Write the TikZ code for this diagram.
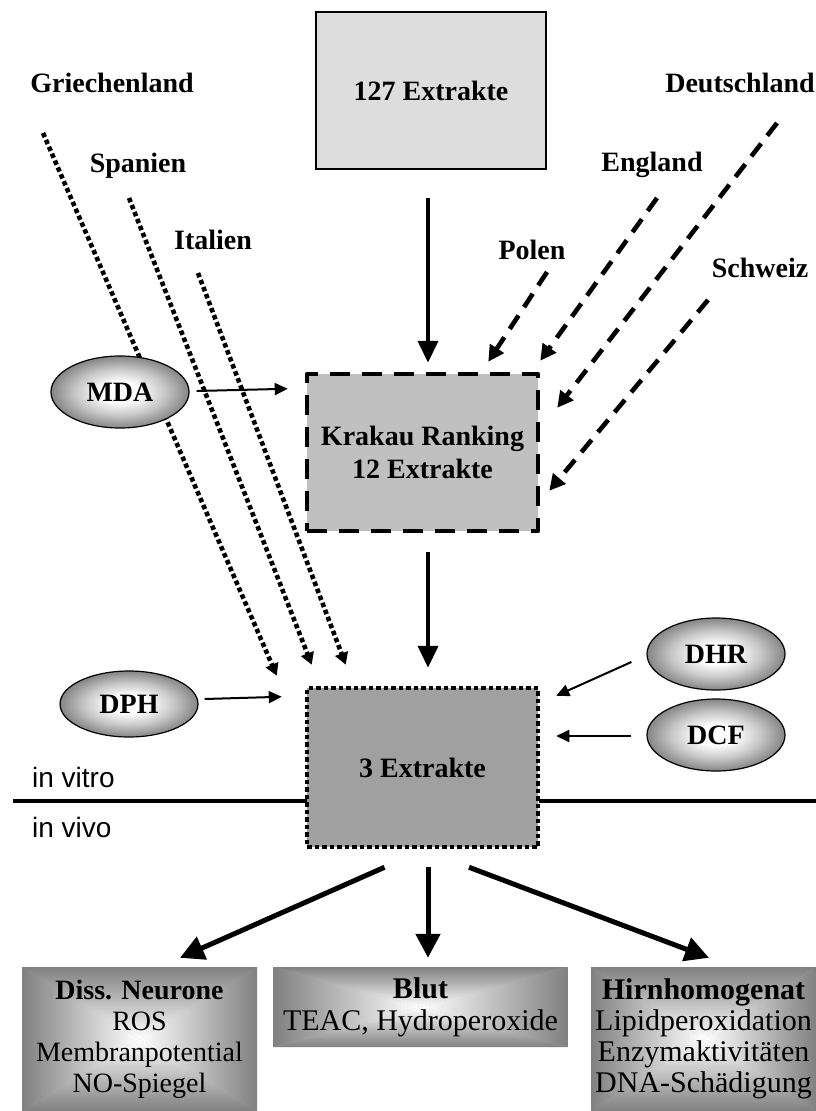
\documentclass[tikz,border=0pt]{standalone}
\usepackage{fontspec}
\setmainfont{Liberation Serif}
\setsansfont{Liberation Sans}
\usetikzlibrary{arrows.meta,calc,shapes.geometric}

\definecolor{fillTop}{HTML}{DDDDDD}
\definecolor{fillKrakau}{HTML}{C0C0C0}
\definecolor{fillDrei}{HTML}{A0A0A0}
\definecolor{shadeEdge}{HTML}{808080}
\definecolor{ellEdge}{HTML}{858585}

% soft glow for the assay ellipses (radius 25bp reaches the outline)
\pgfdeclareradialshading{ellglow}{\pgfpoint{0bp}{0bp}}{%
  color(0bp)=(white); color(7bp)=(white); color(16bp)=(white!55!ellEdge);
  color(25bp)=(ellEdge); color(50bp)=(ellEdge)}

\tikzset{
  bigfont/.style={font=\fontsize{28}{33}\selectfont\bfseries},
  country/.style={bigfont, inner sep=0pt},
  stagebox/.style={bigfont, align=center, inner sep=0pt, minimum width=231pt, minimum height=157pt},
  ellbox/.style={ellipse, draw=black, line width=1.2pt, shading=ellglow,
                 minimum width=138pt, minimum height=72pt, inner sep=0pt, bigfont},
  % rectangular "from centre" gradient: four triangles, each shaded towards its edge
  rectshade/.style={fill=shadeEdge!60!white, path picture={
      \coordinate (pnw) at (path picture bounding box.north west);
      \coordinate (pne) at (path picture bounding box.north east);
      \coordinate (psw) at (path picture bounding box.south west);
      \coordinate (pse) at (path picture bounding box.south east);
      \coordinate (pc)  at (path picture bounding box.center);
      \begin{scope}\clip (pnw) -- (pne) -- (pc) -- cycle;
        \shade[top color=shadeEdge, bottom color=white] (pnw) rectangle (pc -| pne);\end{scope}
      \begin{scope}\clip (psw) -- (pse) -- (pc) -- cycle;
        \shade[top color=white, bottom color=shadeEdge] (pc -| psw) rectangle (pse);\end{scope}
      \begin{scope}\clip (pnw) -- (psw) -- (pc) -- cycle;
        \shade[left color=shadeEdge, right color=white] (pnw) rectangle (pc |- psw);\end{scope}
      \begin{scope}\clip (pne) -- (pse) -- (pc) -- cycle;
        \shade[left color=white, right color=shadeEdge] (pc |- pne) rectangle (pse);\end{scope}
    }},
  resultbox/.style={rectshade, align=center, inner sep=0pt, font=\fontsize{28}{31}\selectfont},
  bigarrow/.style={line width=4pt, -{Triangle[length=22pt,width=20pt]}},
  outarrow/.style={line width=5pt, -{Triangle[length=24pt,width=24pt]}},
  thinarrow/.style={line width=2pt, -{Triangle[length=13pt,width=12pt]}},
  dasharrow/.style={line width=4.6pt, dash pattern=on 16pt off 10pt, -{Triangle[length=16pt,width=16pt]}},
  dotarrow/.style={line width=4.6pt, dash pattern=on 4.5pt off 3pt, -{Triangle[length=12pt,width=13pt]}},
  sepline/.style={line width=4pt},
  sidelabel/.style={font=\fontsize{28}{33}\selectfont\sffamily, inner sep=0pt, anchor=base west}
}

\begin{document}
\begin{tikzpicture}[x=1pt, y=-1pt]
\useasboundingbox (0,0) rectangle (816,1111);

% separator between in vitro and in vivo
\coordinate (sepL) at (13,801);
\coordinate (sepR) at (816,801);

% main stages
\node[stagebox, draw=black, line width=1.2pt, fill=fillTop, minimum width=230pt] (ex127) at (431,90.5) {127 Extrakte};
\node[stagebox, fill=fillKrakau, draw=black, line width=4.5pt, dash pattern=on 20pt off 12pt, line join=round] (ex12) at (422.5,452.5)
  {Krakau Ranking\\12 Extrakte};

\draw[sepline] (sepL) -- (sepL -| 307,0);
\draw[sepline] (539,801) -- (sepR);

\node[stagebox, fill=fillDrei, draw=black, line width=4.5pt, dash pattern=on 4.5pt off 3pt, minimum height=159pt] (ex3) at (422.5,767.5) {3 Extrakte};

\node[sidelabel] (vitro) at (32,787) {in vitro};
\node[sidelabel] (vivo) at (32,837) {in vivo};

% countries
\node[country] (gr) at (112,83) {Griechenland};
\node[country] (es) at (138,166) {Spanien};
\node[country] (it) at (213,240) {Italien};
\node[country] (de) at (740,83) {Deutschland};
\node[country] (en) at (652,165) {England};
\node[country] (pl) at (532,250) {Polen};
\node[country] (ch) at (760,268) {Schweiz};

% main flow
\draw[bigarrow] ($(ex127.south)+(-3,28)$) -- ($(ex12.north)+(5.5,-9)$);
\draw[bigarrow] ($(ex12.south)+(5.5,19)$) -- ($(ex3.north)+(5.5,-18)$);

% country contributions to the ranking
\draw[dasharrow] ($(pl.center)+(15,22)$) -- ($(ex12.north east)+(-52,-10)$);
\draw[dasharrow] ($(en.center)+(5,33)$) -- ($(ex12.north east)+(0,-11)$);
\draw[dasharrow] ($(de.center)+(37,40)$) -- ($(ex12.north east)+(17,36)$);
\draw[dasharrow] ($(ch.center)+(-52,32)$) -- ($(ex12.north east)+(9,119)$);

% direct contributions to the final selection (pass behind the MDA ellipse)
\draw[dotarrow] ($(gr.center)+(-69,50)$) -- ($(ex3.north west)+(-28,-10)$);
\draw[dotarrow] ($(es.center)+(-9,32)$) -- ($(ex3.north west)+(7,-21)$);
\draw[dotarrow] ($(it.center)+(-15,33)$) -- ($(ex3.north west)+(41,-21)$);

% assays
\node[ellbox] (mda) at (120,392) {MDA};
\node[ellbox, minimum height=66pt] (dph) at (129,704) {DPH};
\node[ellbox] (dhr) at (716,654) {DHR};
\node[ellbox] (dcf) at (716,735) {DCF};

% in vivo results
\node[resultbox, minimum width=235pt, minimum height=144pt] (neur) at (139.5,1039)
  {\textbf{Diss. Neurone}\\ROS\\Membranpotential\\NO-Spiegel};
\node[resultbox, minimum width=295pt, minimum height=80pt, font=\fontsize{30}{32}\selectfont] (blut) at (420.5,1007)
  {\textbf{Blut}\\TEAC, Hydroperoxide};
\node[resultbox, minimum width=225pt, minimum height=144pt, font=\fontsize{30}{31}\selectfont] (hirn) at (703.5,1039)
  {\textbf{Hirnhomogenat}\\Lipidperoxidation\\Enzymaktivitäten\\DNA-Schädigung};

% assay arrows
\draw[thinarrow] ($(mda.east)+(7,-1)$) -- ($(ex12.north west)+(-17,17)$);
\draw[thinarrow] ($(dph.east)+(6,-5)$) -- ($(ex3.north west)+(-23,11)$);
\draw[thinarrow] ($(dhr.west)+(-15,8)$) -- ($(ex3.north east)+(16,10)$);
\draw[thinarrow] ($(dcf.west)+(-15,1)$) -- ($(dcf.west -| ex3.east)+(16,1)$);

% towards in vivo results
\draw[outarrow] ($(ex3.south)+(-38,18)$) -- ($(neur.north)+(40.5,-9)$);
\draw[outarrow] ($(ex3.south)+(5.5,18)$) -- ($(blut.north)+(7.5,-9)$);
\draw[outarrow] ($(ex3.south)+(46.5,18)$) -- ($(hirn.north)+(5.5,-9)$);
\end{tikzpicture}
\end{document}
